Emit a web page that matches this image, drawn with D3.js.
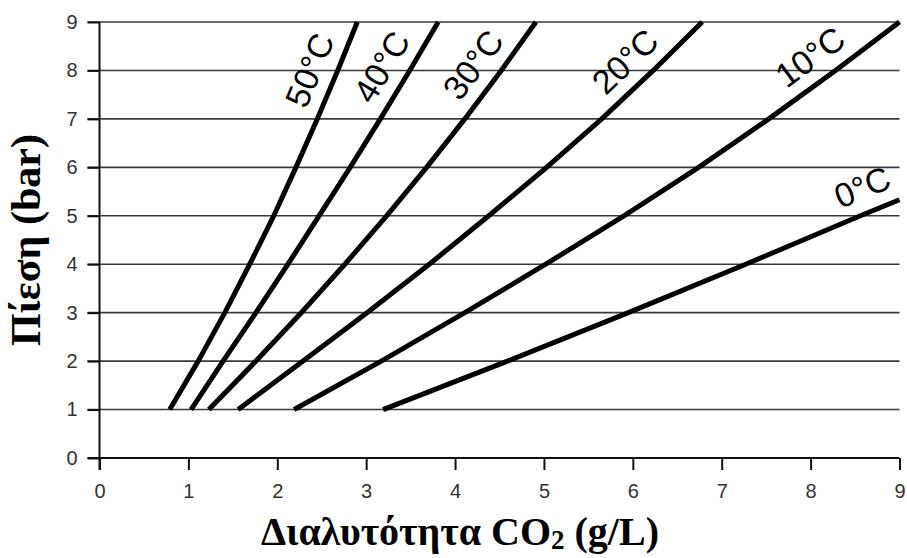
<!DOCTYPE html>
<html>
<head>
<meta charset="utf-8">
<script src="https://cdn.jsdelivr.net/npm/d3@7"></script>
<style>
  body { margin: 0; background: #fff; }
  svg { display: block; }
</style>
</head>
<body>
<script>
// data (pressure in bar on y, solubility in g/L on x)
var pressure = [1, 2, 3, 4, 5, 6, 7, 8, 9];
var pressure0 = [1, 2, 3, 4, 5, 5.33];
var sol50 = [0.79, 1.11, 1.41, 1.69, 1.96, 2.21, 2.45, 2.68, 2.90];
var sol40 = [1.03, 1.39, 1.76, 2.12, 2.47, 2.82, 3.16, 3.49, 3.81];
var sol30 = [1.23, 1.76, 2.27, 2.76, 3.23, 3.68, 4.11, 4.52, 4.91];
var sol20 = [1.56, 2.29, 3.01, 3.71, 4.38, 5.03, 5.65, 6.23, 6.78];
var sol10 = [2.19, 3.17, 4.11, 5.02, 5.90, 6.74, 7.53, 8.28, 9.00];
var sol0 = [3.19, 4.59, 5.95, 7.27, 8.56, 9.00];
var labels = ["50°C", "40°C", "30°C", "20°C", "10°C", "0°C"];
var xTicks = [0, 1, 2, 3, 4, 5, 6, 7, 8, 9];
var yTicks = [0, 1, 2, 3, 4, 5, 6, 7, 8, 9];

var series = [
  { name: labels[0], p: pressure, s: sol50, at: 7.8 },
  { name: labels[1], p: pressure, s: sol40, at: 7.8 },
  { name: labels[2], p: pressure, s: sol30, at: 7.8 },
  { name: labels[3], p: pressure, s: sol20, at: 7.8 },
  { name: labels[4], p: pressure, s: sol10, at: 7.85 },
  { name: labels[5], p: pressure0, s: sol0, at: 5.1 }
];

var W = 907, H = 558;
var x = d3.scaleLinear().domain([0, 9]).range([99.5, 899.5]);
var y = d3.scaleLinear().domain([0, 9]).range([458, 22]);

var svg = d3.select("body").append("svg")
  .attr("width", W)
  .attr("height", H);

// grid lines
svg.append("g")
  .selectAll("line")
  .data(yTicks.slice(1))
  .enter()
  .append("line")
    .attr("x1", x(0) - 12)
    .attr("x2", x(9))
    .attr("y1", function(d) { return y(d); })
    .attr("y2", function(d) { return y(d); })
    .attr("stroke", "#3a3a3a")
    .attr("stroke-width", 1.6);

// axes
var xAxis = svg.append("g")
  .attr("transform", "translate(0," + y(0) + ")")
  .call(d3.axisBottom(x).tickValues(xTicks).tickSize(12).tickPadding(14).tickFormat(d3.format("d")));
var yAxis = svg.append("g")
  .attr("transform", "translate(" + x(0) + ",0)")
  .call(d3.axisLeft(y).tickValues(yTicks).tickSize(12).tickPadding(10).tickFormat(d3.format("d")));

[xAxis, yAxis].forEach(function(a) {
  a.select(".domain").attr("stroke", "#111").attr("stroke-width", 2);
  a.selectAll(".tick line").attr("stroke", "#111").attr("stroke-width", 2);
  a.selectAll(".tick text")
    .attr("fill", "#333")
    .style("font-family", "'Liberation Sans Narrow', 'Liberation Sans', Arial, sans-serif")
    .style("font-size", "20px");
});
yAxis.select(".domain").attr("d", "M0," + y(9) + "V" + (y(0) + 12));
xAxis.select(".domain").attr("d", "M" + (x(0) - 12) + ",0H" + x(9));

// curves
var line = d3.line()
  .x(function(d) { return x(d[0]); })
  .y(function(d) { return y(d[1]); });

svg.append("g")
  .selectAll("path")
  .data(series)
  .enter()
  .append("path")
    .attr("d", function(d) { return line(d.s.map(function(v, i) { return [v, d.p[i]]; })); })
    .attr("fill", "none")
    .attr("stroke", "#000")
    .attr("stroke-width", 5)
    .attr("stroke-linejoin", "round");

// temperature labels, placed along each curve
svg.append("g")
  .selectAll("text")
  .data(series)
  .enter()
  .append("text")
    .attr("transform", function(d) {
      var f = d3.scaleLinear().domain(d.p).range(d.s);
      var p1 = d.at - 0.5, p2 = Math.min(d.at + 0.5, d.p[d.p.length - 1]);
      var dx = x(f(p2)) - x(f(p1)), dy = y(p2) - y(p1);
      var len = Math.sqrt(dx * dx + dy * dy);
      var nx = dy / len, ny = -dx / len;
      var off = 26;
      var cx = x(f(d.at)) + nx * off, cy = y(d.at) + ny * off;
      var ang = Math.atan2(dy, dx) * 180 / Math.PI;
      return "translate(" + cx + "," + cy + ") rotate(" + ang + ")";
    })
    .attr("text-anchor", "middle")
    .attr("dominant-baseline", "central")
    .style("font-family", "'Liberation Sans', Arial, sans-serif")
    .style("font-size", "34px")
    .attr("fill", "#000")
    .text(function(d) { return d.name; });

// axis titles
svg.append("text")
  .attr("x", 460)
  .attr("y", 545)
  .attr("text-anchor", "middle")
  .style("font-family", "'Liberation Serif', 'Times New Roman', serif")
  .style("font-weight", "bold")
  .style("font-size", "40px")
  .html("Διαλυτότητα CO<tspan font-size='27px' dy='4'>2</tspan><tspan dy='-4'> (g/L)</tspan>");

svg.append("text")
  .attr("transform", "translate(40," + (y(0) + y(9)) / 2 + ") rotate(-90)")
  .attr("text-anchor", "middle")
  .style("font-family", "'Liberation Serif', 'Times New Roman', serif")
  .style("font-weight", "bold")
  .style("font-size", "42px")
  .text("Πίεση (bar)");
</script>
</body>
</html>
